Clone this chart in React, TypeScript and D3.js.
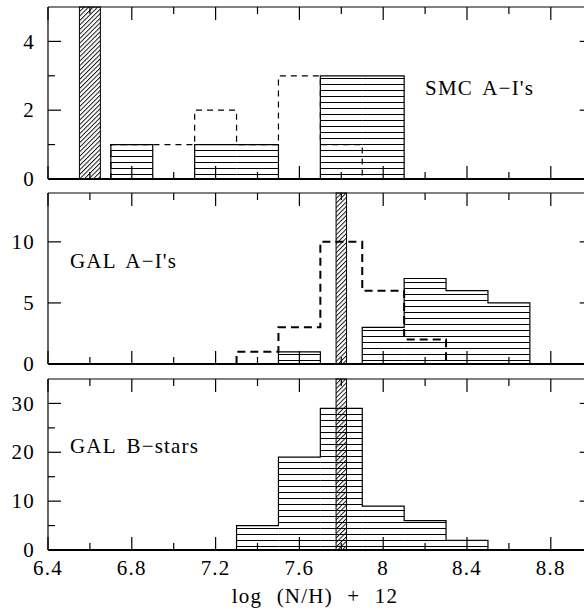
import React from "react";
import * as d3 from "d3";

const BIN_WIDTH = 0.2;
const xTickMajor = [6.4, 6.8, 7.2, 7.6, 8.0, 8.4, 8.8];
const xTickLabels = ["6.4", "6.8", "7.2", "7.6", "8", "8.4", "8.8"];

// SMC A-I's
const smcSolidBins = [6.7, 6.9, 7.1, 7.3, 7.5, 7.7, 7.9];
const smcSolidCounts = [1, 0, 1, 1, 0, 3, 3];
const smcDashedBins = [6.7, 6.9, 7.1, 7.3, 7.5, 7.7];
const smcDashedCounts = [1, 1, 2, 1, 3, 1];
const smcBand = [6.55, 6.65];

// GAL A-I's
const galASolidBins = [7.5, 7.7, 7.9, 8.1, 8.3, 8.5];
const galASolidCounts = [1, 0, 3, 7, 6, 5];
const galADashedBins = [7.3, 7.5, 7.7, 7.9, 8.1];
const galADashedCounts = [1, 3, 10, 6, 2];
const galBand = [7.775, 7.825];

// GAL B-stars
const galBSolidBins = [7.3, 7.5, 7.7, 7.9, 8.1, 8.3];
const galBSolidCounts = [5, 19, 29, 9, 6, 2];

const FONT = "'Liberation Serif', serif";
const FS = 21;
const LS = 1.2;

const x = d3.scaleLinear().domain([6.4, 9.0]).range([48, 592.7]);

type Panel = {
  label: string;
  labelX: number;
  labelY: number;
  yMax: number;
  top: number;
  bottom: number;
  yMajor: number[];
  yMinor: number[];
  solidBins: number[];
  solidCounts: number[];
  dashedBins: number[] | null;
  dashedCounts: number[] | null;
  dashedWidth: number;
  band: number[];
  showXLabels: boolean;
};

const panels: Panel[] = [
  {
    label: "SMC A\u2212I's", labelX: 425, labelY: 95, yMax: 5, top: 7, bottom: 179,
    yMajor: [0, 2, 4], yMinor: [1, 3],
    solidBins: smcSolidBins, solidCounts: smcSolidCounts,
    dashedBins: smcDashedBins, dashedCounts: smcDashedCounts, dashedWidth: 1.2,
    band: smcBand, showXLabels: false,
  },
  {
    label: "GAL A\u2212I's", labelX: 70, labelY: 268, yMax: 14, top: 193, bottom: 364,
    yMajor: [0, 5, 10], yMinor: [],
    solidBins: galASolidBins, solidCounts: galASolidCounts,
    dashedBins: galADashedBins, dashedCounts: galADashedCounts, dashedWidth: 2,
    band: galBand, showXLabels: false,
  },
  {
    label: "GAL B\u2212stars", labelX: 70, labelY: 453, yMax: 35, top: 379, bottom: 550,
    yMajor: [0, 10, 20, 30], yMinor: [5, 15, 25],
    solidBins: galBSolidBins, solidCounts: galBSolidCounts,
    dashedBins: null, dashedCounts: null, dashedWidth: 1,
    band: galBand, showXLabels: true,
  },
];

function stepPaths(bins: number[], counts: number[], y: d3.ScaleLinear<number, number>) {
  const paths: string[] = [];
  let i = 0;
  while (i < bins.length) {
    if (counts[i] === 0) { i++; continue; }
    let d = `M${x(bins[i])},${y(0)}`;
    while (i < bins.length && counts[i] > 0) {
      d += `V${y(counts[i])}H${x(bins[i] + BIN_WIDTH)}`;
      i++;
    }
    d += `V${y(0)}`;
    paths.push(d);
  }
  return paths;
}

function PanelView({ p }: { p: Panel }) {
  const y = d3.scaleLinear().domain([0, p.yMax]).range([p.bottom, p.top]);
  const xMinor = d3.range(6.6, 9.0, 0.4);
  const solidPaths = stepPaths(p.solidBins, p.solidCounts, y);
  const dashedPaths = p.dashedBins && p.dashedCounts ? stepPaths(p.dashedBins, p.dashedCounts, y) : [];
  const x0 = x.range()[0];
  const x1 = x.range()[1];
  return (
    <g>
      {p.solidBins.map((b, i) =>
        p.solidCounts[i] > 0 ? (
          <rect key={"b" + i} x={x(b)} y={y(p.solidCounts[i])} width={x(b + BIN_WIDTH) - x(b)}
            height={y(0) - y(p.solidCounts[i])} fill="url(#hhatch)" stroke="none" />
        ) : null
      )}
      {solidPaths.map((d, i) => (
        <path key={"s" + i} d={d} fill="none" stroke="#000" strokeWidth={1.2} />
      ))}
      {dashedPaths.map((d, i) => (
        <path key={"d" + i} d={d} fill="none" stroke="#000" strokeWidth={p.dashedWidth}
          strokeDasharray={p.dashedWidth > 1.5 ? "8,5" : "6,5"} />
      ))}
      <rect x={x(p.band[0])} y={p.top} width={x(p.band[1]) - x(p.band[0])} height={p.bottom - p.top}
        fill="url(#dhatch)" stroke="#000" strokeWidth={1} />
      <line x1={x0} x2={x1} y1={p.top} y2={p.top} stroke="#000" strokeWidth={1.2} />
      <line x1={x0} x2={x1} y1={p.bottom} y2={p.bottom} stroke="#000" strokeWidth={2} />
      <line x1={x0} x2={x0} y1={p.top} y2={p.bottom} stroke="#000" strokeWidth={1.2} />
      <line x1={x1} x2={x1} y1={p.top} y2={p.bottom} stroke="#000" strokeWidth={1.2} />
      {xTickMajor.map((t) => (
        <g key={"xt" + t}>
          <line x1={x(t)} x2={x(t)} y1={p.top} y2={p.top + 13} stroke="#000" strokeWidth={1.2} />
          <line x1={x(t)} x2={x(t)} y1={p.bottom} y2={p.bottom - 13} stroke="#000" strokeWidth={1.2} />
        </g>
      ))}
      {xMinor.map((t) => (
        <g key={"xm" + t}>
          <line x1={x(t)} x2={x(t)} y1={p.top} y2={p.top + 7} stroke="#000" strokeWidth={1.2} />
          <line x1={x(t)} x2={x(t)} y1={p.bottom} y2={p.bottom - 7} stroke="#000" strokeWidth={1.2} />
        </g>
      ))}
      {p.yMajor.map((t) => (
        <g key={"yt" + t}>
          <line x1={x0} x2={x0 + 13} y1={y(t)} y2={y(t)} stroke="#000" strokeWidth={1.2} />
          <line x1={x1} x2={x1 - 13} y1={y(t)} y2={y(t)} stroke="#000" strokeWidth={1.2} />
          <text x={35} y={y(t)} dy="0.34em" textAnchor="end" fontFamily={FONT} fontSize={FS}
            letterSpacing={LS}>{t}</text>
        </g>
      ))}
      {p.yMinor.map((t) => (
        <g key={"ym" + t}>
          <line x1={x0} x2={x0 + 7} y1={y(t)} y2={y(t)} stroke="#000" strokeWidth={1.2} />
          <line x1={x1} x2={x1 - 7} y1={y(t)} y2={y(t)} stroke="#000" strokeWidth={1.2} />
        </g>
      ))}
      {p.showXLabels &&
        xTickMajor.map((t, i) => (
          <text key={"xl" + t} x={x(t)} y={575} textAnchor="middle" fontFamily={FONT} fontSize={FS}
            letterSpacing={LS}>
            {xTickLabels[i]}
          </text>
        ))}
      <text x={p.labelX} y={p.labelY} fontFamily={FONT} fontSize={FS} letterSpacing={LS}
        wordSpacing={4} style={{ whiteSpace: "pre" }}>
        {p.label}
      </text>
    </g>
  );
}

export default function App() {
  return (
    <svg width={584} height={612} viewBox="0 0 584 612"
      style={{ position: "absolute", left: 0, top: 0, background: "#fff" }}>
      <defs>
        <pattern id="hhatch" patternUnits="userSpaceOnUse" width={10} height={6}>
          <line x1={0} x2={10} y1={0.5} y2={0.5} stroke="#000" strokeWidth={1} />
        </pattern>
        <pattern id="dhatch" patternUnits="userSpaceOnUse" width={3.2} height={10}
          patternTransform="rotate(45)">
          <line x1={0.5} x2={0.5} y1={0} y2={10} stroke="#000" strokeWidth={0.9} />
        </pattern>
      </defs>
      <rect x={0} y={0} width={584} height={612} fill="#fff" />
      {panels.map((p, i) => (
        <PanelView key={i} p={p} />
      ))}
      <text x={315} y={603} textAnchor="middle" fontFamily={FONT} fontSize={FS} letterSpacing={LS}
        wordSpacing={8} style={{ whiteSpace: "pre" }}>
        {"log (N/H) + 12"}
      </text>
    </svg>
  );
}
